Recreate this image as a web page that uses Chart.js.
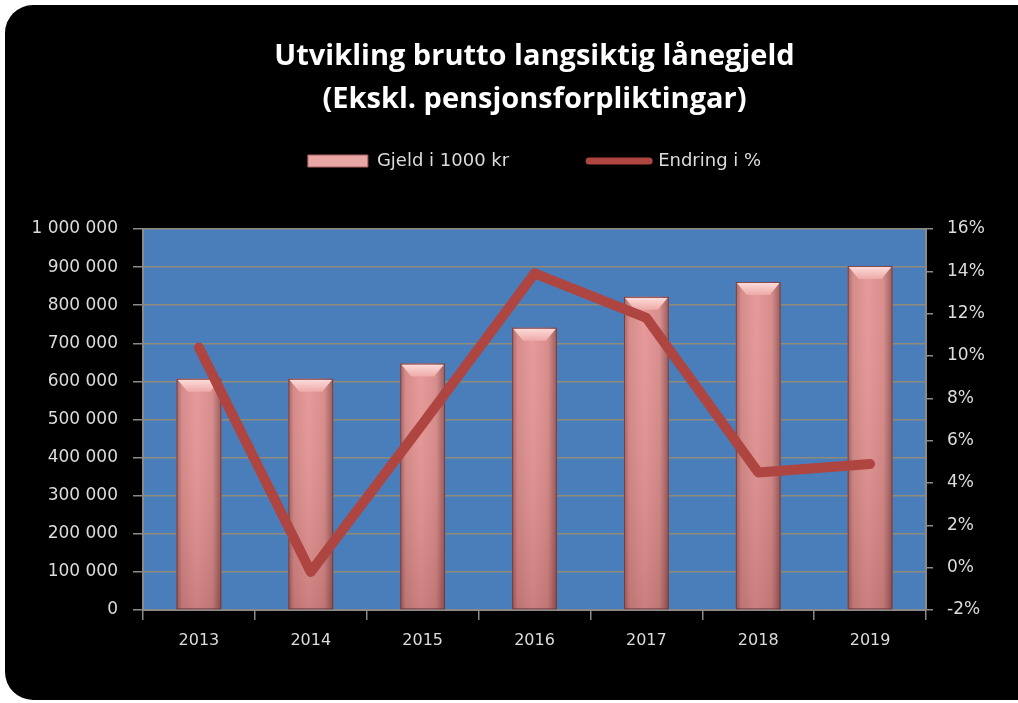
<!DOCTYPE html>
<html>
<head>
<meta charset="utf-8">
<script src="https://cdn.jsdelivr.net/npm/chart.js@4"></script>
<style>
  html, body { margin: 0; padding: 0; background: #ffffff; overflow: hidden; }
  #frame { position: absolute; left: 5px; top: 5px; width: 1060px; height: 695px; background: #000000; border-radius: 28px; }
  #wrap { position: absolute; left: 0; top: 0; width: 1018px; height: 703px; }
</style>
</head>
<body>
<div id="frame"></div>
<div id="wrap"><canvas id="chart" width="1018" height="703"></canvas></div>
<script>
// data
const years = ['2013', '2014', '2015', '2016', '2017', '2018', '2019'];
const gjeld = [607000, 607000, 647000, 741000, 822000, 861000, 903000];
const endring = [10.4, -0.2, 6.8, 13.9, 11.8, 4.5, 4.9];

const titleLines = ['Utvikling brutto langsiktig lånegjeld', '(Ekskl. pensjonsforpliktingar)'];
const barLabel = 'Gjeld i 1000 kr';
const lineLabel = 'Endring i %';

const PLOT_BG = '#4a7ebb';
const LINE_COLOR = '#ae4541';
const AXIS_COLOR = '#8a8a8a';
const TEXT_COLOR = '#dcdcdc';

// tall med mellomrom som tusenskille
function fmtNum(v) {
  return String(v).replace(/\B(?=(\d{3})+(?!\d))/g, ' ');
}

// horisontal gradient over hver søyle
function barFill(ctx) {
  const chart = ctx.chart;
  if (!chart.chartArea || ctx.type !== 'data') return '#d98585';
  const xs = chart.scales.x;
  const cx = xs.getPixelForValue(ctx.dataIndex);
  const w = xs.width / years.length * 0.4;
  if (!isFinite(cx) || !isFinite(w) || w <= 0) return '#d98585';
  const g = chart.ctx.createLinearGradient(cx - w / 2, 0, cx + w / 2, 0);
  g.addColorStop(0, '#a05e5e');
  g.addColorStop(0.12, '#d48685');
  g.addColorStop(0.45, '#e59594');
  g.addColorStop(0.8, '#d68887');
  g.addColorStop(1, '#945454');
  return g;
}

// blå bakgrunn i plottområdet
const plotBg = {
  id: 'plotBg',
  beforeDraw(chart) {
    const a = chart.chartArea;
    const c = chart.ctx;
    c.save();
    c.fillStyle = PLOT_BG;
    c.fillRect(a.left, a.top, a.right - a.left, a.bottom - a.top);
    c.restore();
  }
};

// skygge og lys kant på toppen av søylene
const barBevel = {
  id: 'barBevel',
  afterDatasetDraw(chart, args) {
    if (args.meta.type !== 'bar') return;
    const c = chart.ctx;
    args.meta.data.forEach(bar => {
      const { x, y, base, width } = bar.getProps(['x', 'y', 'base', 'width'], true);
      if (![x, y, base, width].every(isFinite)) return;
      const l = x - width / 2, r = x + width / 2;
      c.save();
      const vg = c.createLinearGradient(0, y, 0, base);
      vg.addColorStop(0, 'rgba(255,255,255,0.05)');
      vg.addColorStop(1, 'rgba(70,20,20,0.16)');
      c.fillStyle = vg;
      c.fillRect(l, y, width, base - y);
      const bh = 13, inset = 11;
      const tg = c.createLinearGradient(0, y, 0, y + bh);
      tg.addColorStop(0, '#fde0de');
      tg.addColorStop(1, '#eea9a7');
      c.fillStyle = tg;
      c.beginPath();
      c.moveTo(l + 1, y + 1);
      c.lineTo(r - 1, y + 1);
      c.lineTo(r - inset, y + bh);
      c.lineTo(l + inset, y + bh);
      c.closePath();
      c.fill();
      c.strokeStyle = 'rgba(110,55,55,0.8)';
      c.lineWidth = 1;
      c.strokeRect(l + 0.5, y + 0.5, width - 1, base - y - 1);
      c.restore();
    });
  }
};

new Chart(document.getElementById('chart'), {
  data: {
    labels: years,
    datasets: [
      {
        type: 'line',
        label: lineLabel,
        data: endring,
        yAxisID: 'y1',
        order: 0,
        borderColor: LINE_COLOR,
        backgroundColor: LINE_COLOR,
        borderWidth: 10,
        borderCapStyle: 'round',
        borderJoinStyle: 'round',
        pointRadius: 0,
        tension: 0
      },
      {
        type: 'bar',
        label: barLabel,
        data: gjeld,
        yAxisID: 'y',
        order: 1,
        backgroundColor: barFill,
        borderWidth: 0,
        barPercentage: 0.4,
        categoryPercentage: 1
      }
    ]
  },
  options: {
    responsive: false,
    devicePixelRatio: 1,
    animation: false,
    layout: { padding: 0 },
    plugins: {
      tooltip: { enabled: false },
      title: {
        display: true,
        fullSize: false,
        text: titleLines,
        color: '#ffffff',
        font: { family: 'Open Sans', size: 29, weight: 'bold', lineHeight: 43 / 29 },
        padding: { top: 35.5, bottom: -49.5 }
      },
      legend: {
        display: true,
        position: 'top',
        fullSize: false,
        labels: {
          color: TEXT_COLOR,
          font: { family: 'DejaVu Sans', size: 18 },
          usePointStyle: true,
          pointStyleWidth: 60,
          boxHeight: 12,
          padding: 80,
          generateLabels(chart) {
            return [
              {
                text: barLabel,
                fillStyle: '#e8a6a5',
                strokeStyle: '#a86060',
                lineWidth: 1,
                pointStyle: 'rect',
                fontColor: TEXT_COLOR,
                datasetIndex: 1
              },
              {
                text: lineLabel,
                fillStyle: LINE_COLOR,
                strokeStyle: LINE_COLOR,
                lineWidth: 7,
                lineCap: 'round',
                pointStyle: 'line',
                fontColor: TEXT_COLOR,
                datasetIndex: 0
              }
            ];
          }
        }
      }
    },
    scales: {
      x: {
        position: 'bottom',
        offset: true,
        grid: { display: true, offset: true, drawOnChartArea: false, tickLength: 10, color: AXIS_COLOR, lineWidth: 1.5 },
        border: { display: true, color: AXIS_COLOR, width: 2 },
        ticks: { color: TEXT_COLOR, font: { family: 'DejaVu Sans', size: 16 }, padding: 11, maxRotation: 0 },
        afterFit(s) { s.height = 93; }
      },
      xTop: {
        type: 'category',
        position: 'top',
        grid: { display: false, drawTicks: false },
        border: { display: false },
        ticks: { display: false },
        afterFit(s) { s.height = 49; }
      },
      y: {
        position: 'left',
        min: 0,
        max: 1000000,
        ticks: {
          stepSize: 100000,
          color: TEXT_COLOR,
          font: { family: 'DejaVu Sans', size: 17 },
          padding: 15,
          callback: v => fmtNum(v)
        },
        grid: { color: '#8f8a7a', lineWidth: 1.5, tickLength: 10, tickColor: AXIS_COLOR },
        border: { display: true, color: AXIS_COLOR, width: 2 },
        afterFit(s) { s.width = 143; }
      },
      y1: {
        position: 'right',
        min: -2,
        max: 16,
        ticks: {
          stepSize: 2,
          color: TEXT_COLOR,
          font: { family: 'DejaVu Sans', size: 17 },
          padding: 14,
          callback: v => v + '%'
        },
        grid: { drawOnChartArea: false, tickLength: 7, color: AXIS_COLOR, lineWidth: 1.5 },
        border: { display: true, color: AXIS_COLOR, width: 2 },
        afterFit(s) { s.width = 92; }
      }
    }
  },
  plugins: [plotBg, barBevel]
});
</script>
</body>
</html>
